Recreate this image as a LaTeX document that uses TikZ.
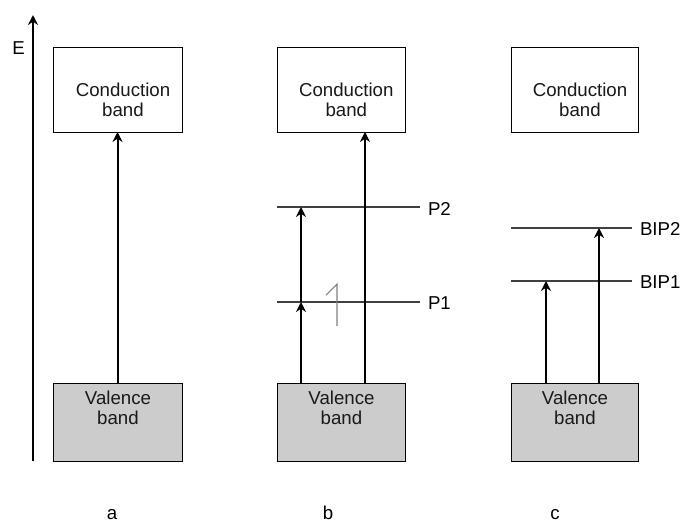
\documentclass[tikz,border=0pt]{standalone}
\usepackage{fontspec}
\setmainfont{Liberation Sans}
\usetikzlibrary{arrows.meta}
\begin{document}
\begin{tikzpicture}[x=0.75pt,y=-0.75pt,
  every node/.style={inner sep=0pt, outer sep=0pt, font=\fontsize{14pt}{15pt}\selectfont},
  cband/.style={draw=black, line width=0.75pt, fill=white, minimum height=63.75pt},
  vband/.style={draw=black, line width=0.75pt, fill=black!20, minimum height=58.5pt},
  txt/.style={align=center, text=black!90},
  level/.style={draw=black!75, line width=0.8pt},
  arr/.style={line width=1.5pt, -{Stealth[length=7.5pt,width=7.5pt,inset=2.5pt]}},
  mark1/.style={draw=black!50, line width=0.8pt}
]
\useasboundingbox (0,0) rectangle (690,525);

% energy axis
\coordinate (axB) at (33,461);
\coordinate (axT) at (33,15);
\draw[arr] (axB) -- (axT);
\node (E) at (18.5,48) {E};

% panel a
\node[cband, minimum width=96.75pt] (cA) at (117.5,89.5) {};
\node[vband, minimum width=96.75pt] (vA) at (117.5,422) {};
\node[txt] (tcA) at (123,99.5) {Conduction\\band};
\node[txt] (tvA) at (118,408.3) {Valence\\band};
\draw[arr] (vA.north) -- (cA.south);
\node[anchor=base] (la) at (112,519) {a};

% panel b
\node[cband, minimum width=96pt] (cB) at (341,89.5) {};
\node[vband, minimum width=96pt] (vB) at (341,422) {};
\node[txt] (tcB) at (346.3,99.5) {Conduction\\band};
\node[txt] (tvB) at (341.5,408.3) {Valence\\band};
\coordinate (p2L) at (277,207);
\coordinate (p2R) at (420,207);
\coordinate (p1L) at (277,302);
\coordinate (p1R) at (420,302);
\draw[level] (p2L) -- (p2R);
\draw[level] (p1L) -- (p1R);
\node[anchor=west] (P2) at (428,209) {P2};
\node[anchor=west] (P1) at (428,303) {P1};
\coordinate (b1) at (301,383);
\coordinate (b1m) at (301,302);
\coordinate (b1t) at (301,207);
\draw[arr] (b1) -- (b1m);
\draw[arr] (b1m) -- (b1t);
\coordinate (b2) at (365,383);
\coordinate (b2t) at (365,132);
\draw[arr] (b2) -- (b2t);
\coordinate (m1) at (326,295);
\coordinate (m2) at (337,284);
\coordinate (m3) at (337,326);
\draw[mark1] (m1) -- (m2) -- (m3);
\node[anchor=base] (lb) at (328,519) {b};

% panel c
\node[cband, minimum width=95.25pt] (cC) at (574.5,89.5) {};
\node[vband, minimum width=95.25pt] (vC) at (574.5,422) {};
\node[txt] (tcC) at (580,99.5) {Conduction\\band};
\node[txt] (tvC) at (575,408.3) {Valence\\band};
\coordinate (q2L) at (511,228);
\coordinate (q2R) at (632,228);
\coordinate (q1L) at (511,281);
\coordinate (q1R) at (632,281);
\draw[level] (q2L) -- (q2R);
\draw[level] (q1L) -- (q1R);
\node[anchor=west] (BIP2) at (640,229) {BIP2};
\node[anchor=west] (BIP1) at (640,282) {BIP1};
\coordinate (c1) at (546,383);
\coordinate (c1t) at (546,281);
\coordinate (c2) at (599,383);
\coordinate (c2t) at (599,228);
\draw[arr] (c1) -- (c1t);
\draw[arr] (c2) -- (c2t);
\node[anchor=base] (lc) at (555,519) {c};
\end{tikzpicture}
\end{document}
